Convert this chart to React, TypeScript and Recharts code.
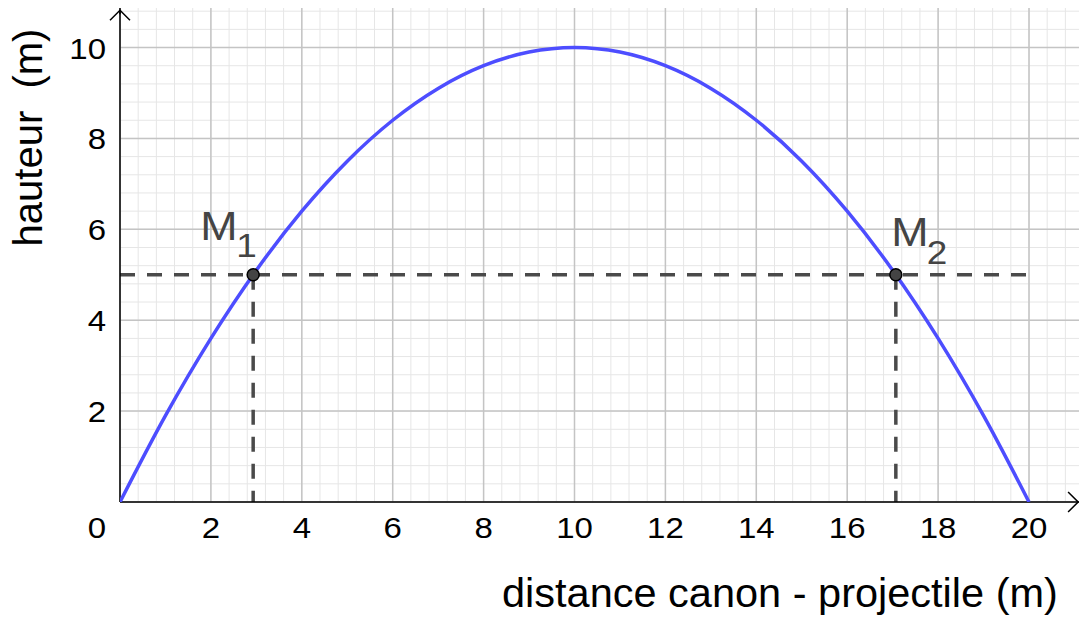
import React from 'react';
import {
  ComposedChart,
  Line,
  XAxis,
  YAxis,
  ReferenceLine,
  ReferenceDot,
  Customized,
} from 'recharts';

// ---- data ----
const distances = [0, 1, 2, 3, 4, 5, 6, 7, 8, 9, 10, 11, 12, 13, 14, 15, 16, 17, 18, 19, 20];
const heights = [0, 1.9, 3.6, 5.1, 6.4, 7.5, 8.4, 9.1, 9.6, 9.9, 10, 9.9, 9.6, 9.1, 8.4, 7.5, 6.4, 5.1, 3.6, 1.9, 0];

const xTicks = [0, 2, 4, 6, 8, 10, 12, 14, 16, 18, 20];
const yTicks = [2, 4, 6, 8, 10];

const pointNames = ['M', 'M'];
const pointSubs = ['1', '2'];
const pointX = [2.93, 17.07];
const pointY = [5, 5];

const levelY = 5;
const levelXStart = 0;
const levelXEnd = 20;

const xMax = 21.1;
const yMax = 10.87;

const xTitle = 'distance canon - projectile (m)';
const yTitle = 'hauteur  (m)';

// grid positions
const minorStep = 0.4;
const majorStep = 2;
const xMinor = Array.from({ length: Math.floor(xMax / minorStep) + 1 }, (_, i) => +(i * minorStep).toFixed(2));
const yMinor = Array.from({ length: Math.floor(yMax / minorStep) + 1 }, (_, i) => +(i * minorStep).toFixed(2));
const xMajor = Array.from({ length: Math.floor(xMax / majorStep) + 1 }, (_, i) => i * majorStep);
const yMajor = Array.from({ length: Math.floor(yMax / majorStep) + 1 }, (_, i) => i * majorStep);

const data = distances.map((d, i) => ({ x: d, y: heights[i] }));

const FONT = '"Liberation Sans", Arial, sans-serif';
const CURVE = '#4d4dff';
const DASH = '#4a4a4a';
const LABEL = '#444444';
const TICK_SCALE = 1.1;

const XTick = (props: any) => {
  const { x, y, payload } = props;
  const shift = payload.value === 0 ? -23 : 0;
  return (
    <text
      transform={`translate(${x + shift},${y + 36}) scale(${TICK_SCALE},1)`}
      x={0}
      y={0}
      textAnchor="middle"
      fontFamily={FONT}
      fontSize={30}
      fill="#000"
    >
      {payload.value}
    </text>
  );
};

const YTick = (props: any) => {
  const { x, y, payload } = props;
  return (
    <text
      transform={`translate(${x - 14},${y + 11}) scale(${TICK_SCALE},1)`}
      x={0}
      y={0}
      textAnchor="end"
      fontFamily={FONT}
      fontSize={30}
      fill="#000"
    >
      {payload.value}
    </text>
  );
};

const Titles = () => (
  <g>
    <text x={502} y={607} fontFamily={FONT} fontSize={41.5} fill="#000">
      {xTitle}
    </text>
    <text
      x={42}
      y={137.5}
      transform="rotate(-90, 42, 137.5)"
      textAnchor="middle"
      fontFamily={FONT}
      fontSize={40}
      fill="#000"
      style={{ whiteSpace: 'pre' }}
    >
      {yTitle}
    </text>
  </g>
);

const makePointShape = (idx: number) => (props: any) => {
  const { cx, cy } = props;
  const first = idx === 0;
  const mx = first ? cx - 53 : cx - 4.5;
  const my = first ? cy - 34.7 : cy - 28.7;
  const sx = first ? cx - 17 : cx + 31;
  const sy = first ? cy - 17.3 : cy - 10.7;
  return (
    <g>
      <circle cx={cx} cy={cy} r={6} fill="#444" stroke="#000" strokeWidth={1.5} />
      <text transform={`translate(${mx},${my}) scale(1.12,1)`} x={0} y={0} fontFamily={FONT} fontSize={40} fill={LABEL}>
        {pointNames[idx]}
      </text>
      <text transform={`translate(${sx},${sy}) scale(1.12,1)`} x={0} y={0} fontFamily={FONT} fontSize={33} fill={LABEL}>
        {pointSubs[idx]}
      </text>
    </g>
  );
};

const ArrowRight = (props: any) => {
  const { cx, cy } = props;
  return <path d={`M${cx - 10},${cy - 10} L${cx},${cy} L${cx - 10},${cy + 10}`} fill="none" stroke="#000" strokeWidth={1.5} />;
};
const ArrowUp = (props: any) => {
  const { cx, cy } = props;
  return (
    <g>
      <line x1={cx} y1={cy} x2={cx} y2={cy + 4} stroke="#000" strokeWidth={1.5} />
      <path d={`M${cx - 10},${cy + 10} L${cx},${cy} L${cx + 10},${cy + 10}`} fill="none" stroke="#000" strokeWidth={1.5} />
    </g>
  );
};

export default function App() {
  return (
    <div style={{ position: 'absolute', left: 0, top: 0, width: 1079, height: 619, background: '#fff' }}>
      <ComposedChart
        width={1079}
        height={619}
        data={data}
        margin={{ top: 8, right: 0, bottom: 0, left: 0 }}
      >
        <XAxis
          dataKey="x"
          type="number"
          domain={[0, xMax]}
          ticks={xTicks}
          tick={<XTick />}
          tickLine={false}
          tickSize={0}
          tickMargin={0}
          height={117}
          axisLine={false}
          allowDataOverflow
          interval={0}
        />
        <YAxis
          type="number"
          domain={[0, yMax]}
          ticks={yTicks}
          tick={<YTick />}
          tickLine={false}
          tickSize={0}
          tickMargin={0}
          width={120}
          axisLine={false}
          allowDataOverflow
          interval={0}
        />
        {xMinor.map((v) => (
          <ReferenceLine key={`xm${v}`} x={v} stroke="#e6e6e6" strokeWidth={1} ifOverflow="visible" />
        ))}
        {yMinor.map((v) => (
          <ReferenceLine key={`ym${v}`} y={v} stroke="#e6e6e6" strokeWidth={1} ifOverflow="visible" />
        ))}
        {xMajor.map((v) => (
          <ReferenceLine key={`xM${v}`} x={v} stroke="#c4c4c4" strokeWidth={1.5} ifOverflow="visible" />
        ))}
        {yMajor.map((v) => (
          <ReferenceLine key={`yM${v}`} y={v} stroke="#c4c4c4" strokeWidth={1.5} ifOverflow="visible" />
        ))}
        <ReferenceLine
          segment={[{ x: levelXStart, y: levelY }, { x: levelXEnd, y: levelY }]}
          stroke={DASH}
          strokeWidth={3.5}
          strokeDasharray="15 12"
          ifOverflow="visible"
        />
        {pointX.map((px, i) => (
          <ReferenceLine
            key={`v${i}`}
            segment={[{ x: px, y: pointY[i] }, { x: px, y: 0 }]}
            stroke={DASH}
            strokeWidth={3.5}
            strokeDasharray="15 12"
            ifOverflow="visible"
          />
        ))}
        <ReferenceLine x={0} stroke="#000" strokeWidth={1.5} ifOverflow="visible" />
        <ReferenceLine y={0} stroke="#000" strokeWidth={1.5} ifOverflow="visible" />
        <ReferenceDot x={xMax - 0.02} y={0} r={0} shape={<ArrowRight />} ifOverflow="visible" />
        <ReferenceDot x={0} y={yMax - 0.05} r={0} shape={<ArrowUp />} ifOverflow="visible" />
        <Line
          type="monotone"
          dataKey="y"
          stroke={CURVE}
          strokeWidth={3.5}
          dot={false}
          activeDot={false}
          isAnimationActive={false}
        />
        {pointX.map((px, i) => (
          <ReferenceDot key={`p${i}`} x={px} y={pointY[i]} r={6} shape={makePointShape(i)} ifOverflow="visible" />
        ))}
        <Customized component={Titles} />
      </ComposedChart>
    </div>
  );
}
